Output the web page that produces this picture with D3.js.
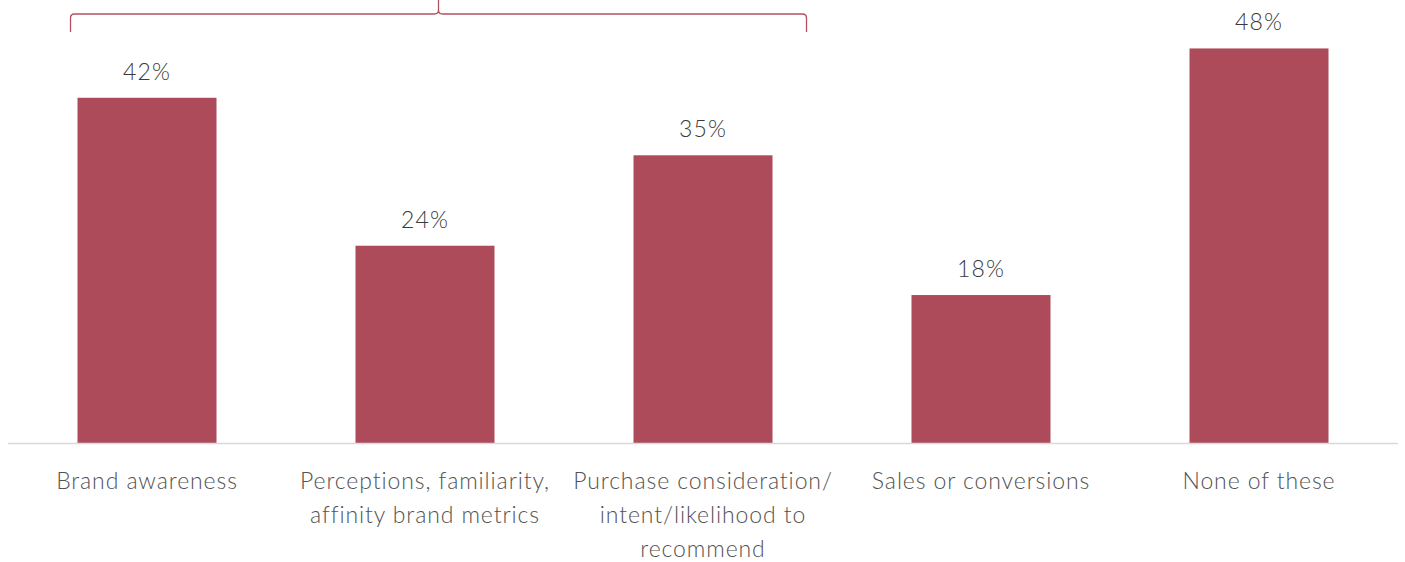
<!DOCTYPE html>
<html>
<head>
<meta charset="utf-8">
<script src="https://cdn.jsdelivr.net/npm/d3@7"></script>
<style>
  html, body { margin: 0; padding: 0; background: #ffffff; }
  svg { display: block; }
  text { font-family: "Lato", "Open Sans", sans-serif; font-weight: 300; }
</style>
</head>
<body>
<svg id="chart" width="1405" height="562"></svg>
<script>
// Share of respondents by metric
const categories = [
  ["Brand awareness"],
  ["Perceptions, familiarity,", "affinity brand metrics"],
  ["Purchase consideration/", "intent/likelihood to", "recommend"],
  ["Sales or conversions"],
  ["None of these"]
];
const values = [42, 24, 35, 18, 48];
const valueLabels = ["42%", "24%", "35%", "18%", "48%"];

const barColor = "#ae4b5b";
const svg = d3.select("#chart");

const x = d3.scaleBand()
  .domain(d3.range(categories.length))
  .range([8, 1398])
  .paddingInner(0.5)
  .paddingOuter(0.25);

const y = d3.scaleLinear().domain([0, 50]).range([443, 32]);

// bars
svg.append("g").selectAll("rect")
  .data(values)
  .join("rect")
  .attr("x", (d, i) => x(i))
  .attr("y", d => y(d))
  .attr("width", x.bandwidth())
  .attr("height", d => y(0) - y(d))
  .attr("fill", barColor);

// baseline
svg.append("line")
  .attr("x1", 8).attr("x2", 1398)
  .attr("y1", y(0) + 0.5).attr("y2", y(0) + 0.5)
  .attr("stroke", "#d9d9d9").attr("stroke-width", 1.5);

// value labels
svg.append("g").selectAll("text")
  .data(values)
  .join("text")
  .attr("x", (d, i) => x(i) + x.bandwidth() / 2)
  .attr("y", d => y(d) - 18)
  .attr("text-anchor", "middle")
  .attr("font-size", 23)
  .attr("letter-spacing", 1.2)
  .attr("fill", "#3a3a3a")
  .text((d, i) => valueLabels[i]);

// category labels
const cat = svg.append("g").selectAll("text")
  .data(categories)
  .join("text")
  .attr("x", (d, i) => x(i) + x.bandwidth() / 2)
  .attr("y", 489)
  .attr("text-anchor", "middle")
  .attr("font-size", 23)
  .attr("letter-spacing", 0.9)
  .attr("fill", "#525252");
cat.each(function(lines) {
  const t = d3.select(this);
  const cx = t.attr("x");
  lines.forEach((line, j) => {
    t.append("tspan").attr("x", cx).attr("dy", j === 0 ? 0 : 34).text(line);
  });
});

// curly bracket grouping the first three metrics
const bx0 = x(0) - 7, bx1 = x(2) + x.bandwidth() + 34;
const bm = (bx0 + bx1) / 2;
const by = 14, bEnd = 32, r = 4;
const bracket = d3.path();
bracket.moveTo(bx0, bEnd);
bracket.lineTo(bx0, by + r);
bracket.quadraticCurveTo(bx0, by, bx0 + r, by);
bracket.lineTo(bm - r, by);
bracket.quadraticCurveTo(bm, by, bm, by - r);
bracket.lineTo(bm, 0);
bracket.moveTo(bm, by - r);
bracket.quadraticCurveTo(bm, by, bm + r, by);
bracket.lineTo(bx1 - r, by);
bracket.quadraticCurveTo(bx1, by, bx1, by + r);
bracket.lineTo(bx1, bEnd);
svg.append("path")
  .attr("d", bracket.toString())
  .attr("fill", "none")
  .attr("stroke", "#b5505f")
  .attr("stroke-width", 1.3);
</script>
</body>
</html>
